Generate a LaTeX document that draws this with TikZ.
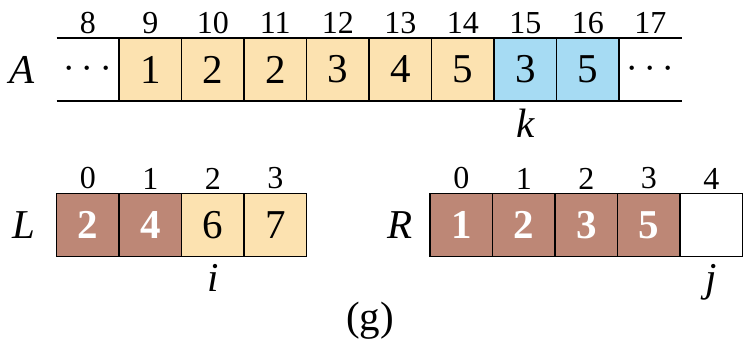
\RequirePackage{fix-cm}
\documentclass[tikz,border=0pt]{standalone}
\usepackage{fontspec}
\setmainfont{Liberation Serif}
\usetikzlibrary{positioning}

\definecolor{tanfill}{RGB}{252,226,176}
\definecolor{skyfill}{RGB}{166,219,243}
\definecolor{donefill}{RGB}{189,135,118}

\begin{document}
\begin{tikzpicture}[x=1pt, y=1pt,
        cell/.style={rectangle, draw, line width=1.2pt, outer sep=0pt, inner sep=0pt, minimum width=62.5pt, minimum height=63pt, font={\fontsize{41}{41}\selectfont}},
        opencell/.style={cell, draw=none},
        tancell/.style={cell, fill=tanfill},
        bluecell/.style={cell, fill=skyfill},
        donecell/.style={cell, fill=donefill, text=white, font={\fontsize{41}{41}\selectfont\bfseries}},
        emptycell/.style={cell, fill=white},
        index/.style={font={\fontsize{32}{32}\selectfont}, inner sep=2pt},
        arrname/.style={font={\fontsize{41}{41}\selectfont\itshape}},
        pointer/.style={font={\fontsize{41}{41}\selectfont\itshape}, inner sep=2pt}
    ]
        \useasboundingbox (0,0) rectangle (744,-346);

        % Array A (top row)
        \node (A) [arrname] at (22, -69.5) {A};
        \node (a8) [opencell] at (87.75, -69.5) {$\cdots$};
        \node (a9) [tancell] at (150.25, -69.5) {1};
        \node (a10) [tancell] at (212.75, -69.5) {2};
        \node (a11) [tancell] at (275.25, -69.5) {2};
        \node (a12) [tancell] at (337.75, -69.5) {3};
        \node (a13) [tancell] at (400.25, -69.5) {4};
        \node (a14) [tancell] at (462.75, -69.5) {5};
        \node (a15) [bluecell] at (525.25, -69.5) {3};
        \node (a16) [bluecell] at (587.75, -69.5) {5};
        \node (a17) [opencell] at (650.25, -69.5) {$\cdots$};
        \draw [line width=1.2pt] (a8.north west) -- (a17.north east);
        \draw [line width=1.2pt] (a8.south west) -- (a17.south east);
        \foreach \n in {8,...,17}
            \node (ia\n) [index, above=2pt of a\n.north] {\n};
        \node (k) [pointer, below=6pt of a15.south] {k};

        % Array L (bottom left)
        \node (L) [arrname] at (24, -225) {L};
        \node (l0) [donecell] at (87.75, -225) {2};
        \node (l1) [donecell] at (150.25, -225) {4};
        \node (l2) [tancell] at (212.75, -225) {6};
        \node (l3) [tancell] at (275.25, -225) {7};
        \foreach \n in {0,...,3}
            \node (il\n) [index, above=2pt of l\n.north] {\n};
        \node (i) [pointer, below=6pt of l2.south] {i};

        % Array R (bottom right)
        \node (R) [arrname] at (400, -225) {R};
        \node (r0) [donecell] at (461.25, -225) {1};
        \node (r1) [donecell] at (523.75, -225) {2};
        \node (r2) [donecell] at (586.25, -225) {3};
        \node (r3) [donecell] at (648.75, -225) {5};
        \node (r4) [emptycell] at (711.25, -225) {};
        \foreach \n in {0,...,4}
            \node (ir\n) [index, above=2pt of r\n.north] {\n};
        \node (j) [pointer, below=6pt of r4.south] {j};

        % Caption
        \node (caption) [font={\fontsize{41}{41}\selectfont}] at (370, -321) {(g)};
    \end{tikzpicture}
\end{document}
